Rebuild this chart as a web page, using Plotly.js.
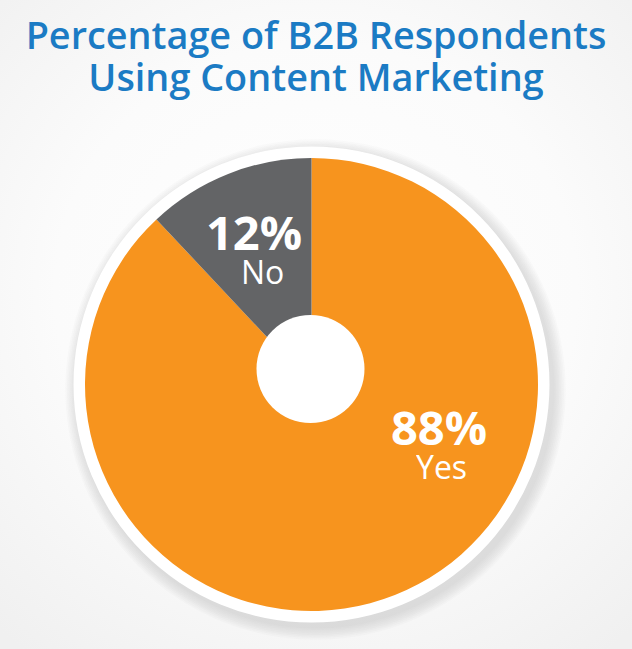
<!DOCTYPE html>
<html>
<head>
<meta charset="utf-8">
<script src="https://cdn.plot.ly/plotly-3.0.1.min.js"></script>
<style>
  html, body { margin: 0; padding: 0; }
  body {
    width: 632px; height: 649px; overflow: hidden;
    background: radial-gradient(ellipse 75% 70% at 50% 45%, #ffffff 0%, #fbfbfb 55%, #f0f0f0 100%);
  }
  #chart { width: 632px; height: 649px; }
</style>
</head>
<body>
<div id="chart"></div>
<script>
// ---- data ----
const labels = ["Yes", "No"];
const values = [88, 12];
const colors = ["#F7941E", "#636466"];
const titleLines = ["Percentage of B2B Respondents", "Using Content Marketing"];

// ---- layout helpers (pixel -> paper) ----
const W = 632, H = 649;
const px = x => x / W;
const py = y => 1 - y / H;

const cx = 311.5, cy = 384.5, r = 226.5;        // pie
const ringR = 238;                               // white ring
const holeCx = 310.5, holeCy = 369, holeR = 54;  // offset hole

function circle(cxp, cyp, rad, fill, layer, opacity) {
  return {
    type: "circle", xref: "paper", yref: "paper", layer: layer,
    x0: px(cxp - rad), x1: px(cxp + rad),
    y0: py(cyp + rad), y1: py(cyp - rad),
    fillcolor: fill, opacity: opacity === undefined ? 1 : opacity,
    line: { width: 0 }
  };
}

const shapes = [];
// soft shadow
for (let i = 0; i < 8; i++) {
  shapes.push(circle(cx + 4, cy + 5, ringR + 1 + i * 1.6, "#9a9a9a", "below", 0.045));
}
shapes.push(circle(cx, cy, ringR, "#ffffff", "below", 1));
shapes.push(circle(holeCx, holeCy, holeR, "#ffffff", "above", 1));

// label annotations, built from the data arrays
const labelPos = { "No":  { x: 254, yv: 232, xl: 262, yl: 271 },
                   "Yes": { x: 439, yv: 427, xl: 441, yl: 466 } };
const annotations = [];
labels.forEach((lab, i) => {
  const p = labelPos[lab];
  annotations.push({
    xref: "paper", yref: "paper", x: px(p.x), y: py(p.yv),
    xanchor: "center", yanchor: "middle", showarrow: false,
    height: 38,
    text: "<b>" + values[i] + "%</b>",
    font: { family: "Open Sans", size: 47, color: "#ffffff", weight: 700 }
  });
  annotations.push({
    xref: "paper", yref: "paper", x: px(p.xl), y: py(p.yl),
    xanchor: "center", yanchor: "middle", showarrow: false,
    height: 28,
    text: lab,
    font: { family: "Open Sans", size: 32, color: "#ffffff" }
  });
});

const data = [{
  type: "pie",
  labels: labels,
  values: values,
  sort: false,
  direction: "clockwise",
  rotation: 0,
  marker: { colors: colors, line: { width: 0 } },
  textinfo: "none",
  hoverinfo: "label+percent",
  showlegend: false,
  domain: { x: [px(cx - r), px(cx + r)], y: [py(cy + r), py(cy - r)] }
}];

const layout = {
  width: W, height: H,
  margin: { l: 0, r: 0, t: 0, b: 0 },
  paper_bgcolor: "rgba(0,0,0,0)",
  plot_bgcolor: "rgba(0,0,0,0)",
  showlegend: false,
  title: {
    text: titleLines.map(t => "<span style='font-size:37.8px'>" + t + "</span>").join("<br>"),
    x: 0.5, xanchor: "center",
    y: 0.925, yref: "container", yanchor: "middle",
    font: { family: "Open Sans", size: 32.3, color: "#1B7BC4", weight: 600 }
  },
  shapes: shapes,
  annotations: annotations
};

Plotly.newPlot("chart", data, layout, { displayModeBar: false, staticPlot: true });
</script>
</body>
</html>
